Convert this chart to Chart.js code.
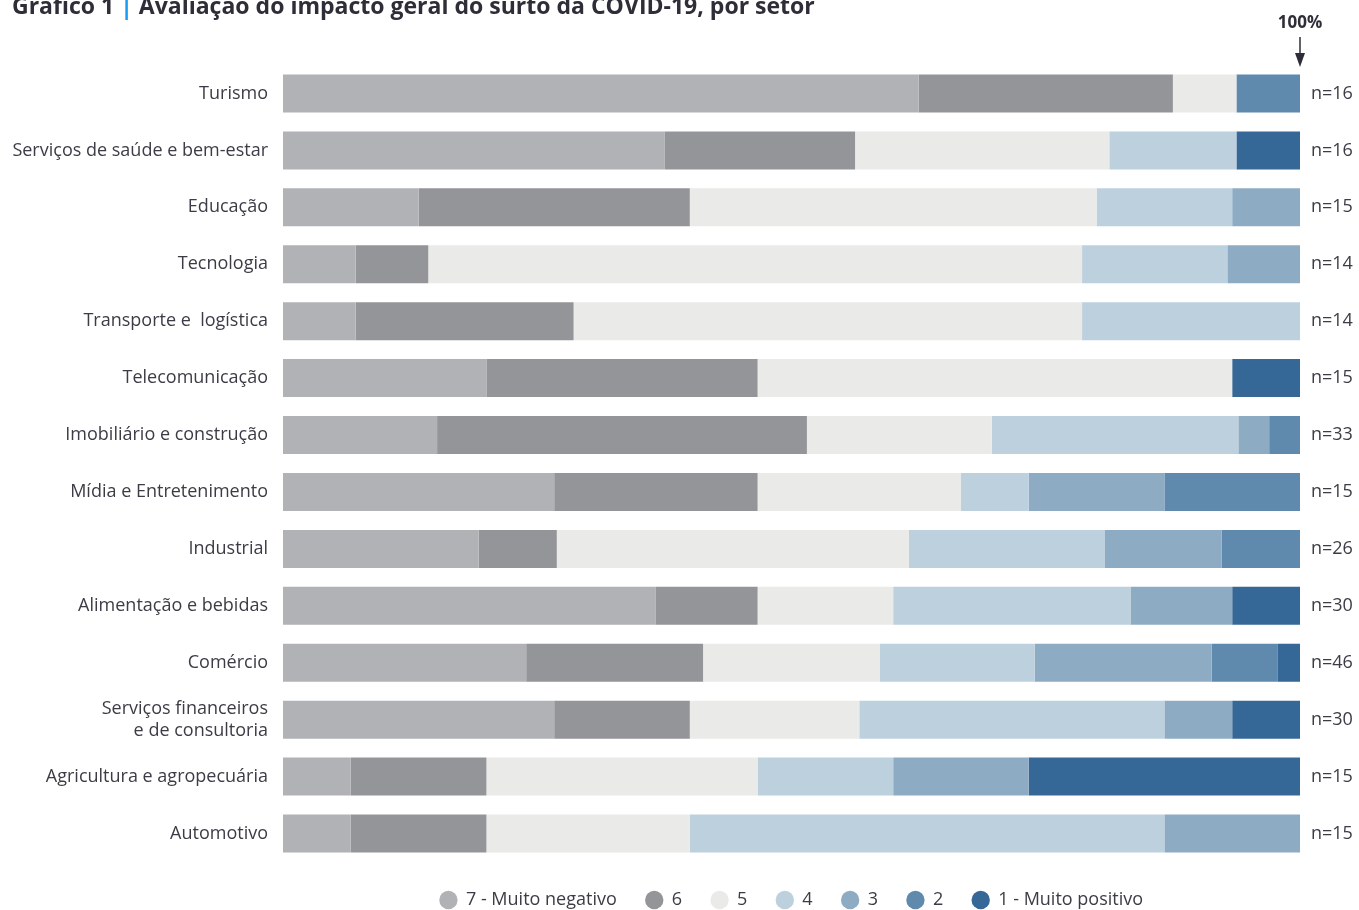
<html>
<head>
<meta charset="utf-8">
<script src="https://cdn.jsdelivr.net/npm/chart.js@4/dist/chart.umd.min.js"></script>
<style>
  html, body { margin: 0; padding: 0; background: #fff; }
  #wrap { width: 1359px; height: 910px; position: relative; }
</style>
<title></title>
</head>
<body>
<div id="wrap"><canvas id="bar-chart"></canvas></div>
<script>
// setores (categorias)
var setores = [
  'Turismo',
  'Serviços de saúde e bem-estar',
  'Educação',
  'Tecnologia',
  'Transporte e  logística',
  'Telecomunicação',
  'Imobiliário e construção',
  'Mídia e Entretenimento',
  'Industrial',
  'Alimentação e bebidas',
  'Comércio',
  ['Serviços financeiros', 'e de consultoria'],
  'Agricultura e agropecuária',
  'Automotivo'
];

// número de respostas por setor
var nRespostas = [16, 16, 15, 14, 14, 15, 33, 15, 26, 30, 46, 30, 15, 15];

// respostas por nota (contagens)
var nota7 = [10, 6, 2, 1, 1, 3, 5, 4, 5, 11, 11, 8, 1, 1];
var nota6 = [4, 3, 4, 1, 3, 4, 12, 3, 2, 3, 8, 4, 2, 2];
var nota5 = [1, 4, 6, 9, 7, 7, 6, 3, 9, 4, 8, 5, 4, 3];
var nota4 = [0, 2, 2, 2, 3, 0, 8, 1, 5, 7, 7, 9, 2, 7];
var nota3 = [0, 0, 1, 1, 0, 0, 1, 2, 3, 3, 8, 2, 2, 2];
var nota2 = [1, 0, 0, 0, 0, 0, 1, 2, 2, 0, 3, 0, 0, 0];
var nota1 = [0, 1, 0, 0, 0, 1, 0, 0, 0, 2, 1, 2, 4, 0];

var legendas = ['7 - Muito negativo', '6', '5', '4', '3', '2', '1 - Muito positivo'];
var cores = ['#b1b2b6', '#949599', '#eaeae8', '#bdd0de', '#8eabc4', '#5f8aae', '#366897'];

var fonte = '"Open Sans", "Noto Sans", sans-serif';
var corTexto = '#3c3c46';

function pct(arr) {
  return arr.map(function (v, i) { return v / nRespostas[i] * 100; });
}

var series = [nota7, nota6, nota5, nota4, nota3, nota2, nota1];
var datasets = series.map(function (s, k) {
  return {
    label: legendas[k],
    data: pct(s),
    backgroundColor: cores[k],
    borderWidth: 0,
    barPercentage: 1,
    categoryPercentage: 0.668,
    yAxisID: 'y'
  };
});

// título e seta "100%"
var extras = {
  id: 'extras',
  afterDraw: function (chart) {
    var ctx = chart.ctx;
    ctx.save();
    ctx.textBaseline = 'alphabetic';
    ctx.textAlign = 'left';
    var t1 = 'Gráfico 1 ';
    var t2 = '| ';
    var t3 = 'Avaliação do impacto geral do surto da COVID-19, por setor';
    // ajusta o tamanho para a largura do original (~803px)
    ctx.font = 'bold 20px ' + fonte;
    var w = ctx.measureText(t1 + t2 + t3).width;
    var size = 20 * 803 / w;
    ctx.font = 'bold ' + size.toFixed(2) + 'px ' + fonte;
    var x = 12, y = 14;
    ctx.fillStyle = '#2e2e38';
    ctx.fillText(t1, x, y);
    x += ctx.measureText(t1).width;
    ctx.fillStyle = '#1a9af0';
    ctx.fillText(t2, x, y);
    x += ctx.measureText(t2).width;
    ctx.fillStyle = '#2e2e38';
    ctx.fillText(t3, x, y);

    var xs = chart.scales.x.getPixelForValue(100);
    ctx.textAlign = 'center';
    ctx.font = 'bold 17px ' + fonte;
    ctx.fillStyle = '#2e2e38';
    ctx.fillText('100%', xs, 28);
    ctx.strokeStyle = '#2e2e38';
    ctx.lineWidth = 1.5;
    ctx.beginPath();
    ctx.moveTo(xs, 37);
    ctx.lineTo(xs, 56);
    ctx.stroke();
    ctx.beginPath();
    ctx.moveTo(xs - 5, 53);
    ctx.lineTo(xs + 5, 53);
    ctx.lineTo(xs, 67);
    ctx.closePath();
    ctx.fillStyle = '#2e2e38';
    ctx.fill();
    ctx.restore();
  }
};

var ctx = document.getElementById('bar-chart').getContext('2d');
var chart = new Chart(ctx, {
  type: 'bar',
  data: { labels: setores, datasets: datasets },
  plugins: [extras],
  options: {
    indexAxis: 'y',
    responsive: true,
    maintainAspectRatio: false,
    animation: false,
    layout: { padding: { top: 65, left: 0, right: 0, bottom: 0 } },
    scales: {
      x: {
        stacked: true,
        min: 0,
        max: 100,
        display: false
      },
      y: {
        stacked: true,
        grid: { display: false, drawTicks: false },
        border: { display: false },
        ticks: {
          padding: 15,
          color: corTexto,
          font: { family: fonte, size: 18, lineHeight: 1.2 }
        },
        afterFit: function (s) { s.width = 283; }
      },
      y2: {
        type: 'category',
        position: 'right',
        labels: nRespostas.map(function (n) { return 'n=' + n; }),
        offset: true,
        grid: { display: false, drawTicks: false },
        border: { display: false },
        ticks: {
          padding: 11,
          color: corTexto,
          font: { family: fonte, size: 18 }
        },
        afterFit: function (s) { s.width = 59; }
      }
    },
    plugins: {
      legend: {
        position: 'bottom',
        fullSize: false,
        maxHeight: 48,
        labels: {
          usePointStyle: true,
          pointStyle: 'circle',
          boxWidth: 17,
          boxHeight: 13,
          padding: 29,
          color: corTexto,
          font: { family: fonte, size: 18 }
        }
      },
      tooltip: { enabled: false }
    }
  }
});
</script>
</body>
</html>
